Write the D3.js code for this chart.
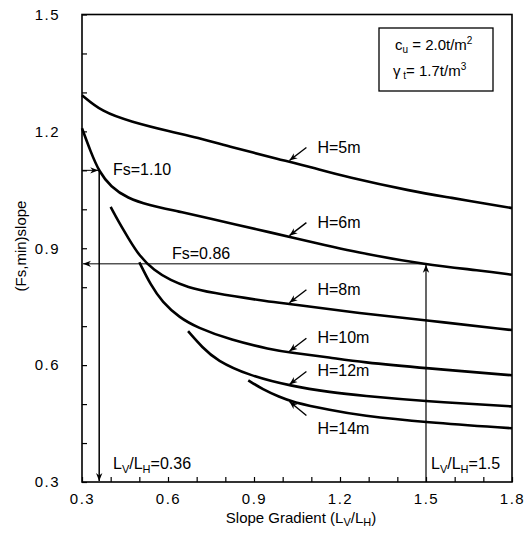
<!DOCTYPE html>
<html>
<head>
<meta charset="utf-8">
<script src="https://cdn.jsdelivr.net/npm/d3@7"></script>
<style>
  body { margin: 0; background: #fff; }
  text { font-family: "Liberation Sans", Arial, sans-serif; fill: #000; }
</style>
</head>
<body>
<svg id="chart" width="527" height="544"></svg>
<script>
// curves: [slope gradient LV/LH, (Fs,min)slope]
var h5 = [[0.30,1.293],[0.37,1.250],[0.47,1.225],[0.61,1.199],[0.70,1.185],[0.82,1.160],[0.99,1.128],[1.10,1.108],[1.22,1.083],[1.46,1.045],[1.57,1.032],[1.80,1.003]];
var h6 = [[0.30,1.208],[0.33,1.148],[0.36,1.096],[0.40,1.058],[0.46,1.028],[0.53,1.011],[0.64,0.994],[0.74,0.977],[0.92,0.947],[1.03,0.928],[1.27,0.887],[1.50,0.858],[1.69,0.843],[1.80,0.832]];
var h8 = [[0.40,1.006],[0.43,0.965],[0.46,0.928],[0.50,0.880],[0.55,0.844],[0.61,0.817],[0.67,0.800],[0.74,0.787],[0.96,0.762],[1.03,0.757],[1.27,0.733],[1.50,0.715],[1.80,0.690]];
var h10 = [[0.50,0.864],[0.54,0.805],[0.58,0.762],[0.64,0.722],[0.70,0.697],[0.82,0.664],[0.96,0.640],[1.02,0.633],[1.17,0.619],[1.27,0.608],[1.50,0.592],[1.80,0.574]];
var h12 = [[0.67,0.687],[0.72,0.645],[0.77,0.612],[0.88,0.574],[1.03,0.546],[1.17,0.530],[1.27,0.522],[1.50,0.507],[1.80,0.494]];
var h14 = [[0.88,0.561],[0.93,0.538],[0.99,0.518],[1.03,0.506],[1.17,0.484],[1.27,0.471],[1.50,0.453],[1.80,0.438]];

var curveNames = ["H=5m", "H=6m", "H=8m", "H=10m", "H=12m", "H=14m"];
var curves = [h5, h6, h8, h10, h12, h14];
var labelAt = [1.02, 1.02, 1.02, 1.02, 1.02, 1.02];   // where each label arrow touches its curve
var labelBelow = [false, false, false, false, false, true];

var xTicks = [0.3, 0.6, 0.9, 1.2, 1.5, 1.8];
var yTicks = [0.3, 0.6, 0.9, 1.2, 1.5];

// the two worked examples
var fsHigh = 1.10, slopeHigh = 0.36;
var fsLow = 0.86, slopeLow = 1.5;

var svg = d3.select("#chart");
var x = d3.scaleLinear().domain([0.3, 1.8]).range([82, 512]);
var y = d3.scaleLinear().domain([0.3, 1.5]).range([482, 14.5]);

var defs = svg.append("defs");
defs.append("marker").attr("id", "head")
  .attr("viewBox", "0 0 10 10").attr("refX", 10).attr("refY", 5)
  .attr("markerWidth", 8).attr("markerHeight", 8)
  .attr("markerUnits", "userSpaceOnUse")
  .attr("orient", "auto")
  .append("path").attr("d", "M0,1 L10,5 L0,9 L3,5 Z").attr("fill", "#000");

var xMinor = d3.range(3, 18.01, 1).map(function (d) { return Math.round(d) / 10; });
var yMinor = d3.range(3, 15.01, 1).map(function (d) { return Math.round(d) / 10; });
function fmt(d) {
  return xTicks.concat(yTicks).some(function (t) { return Math.abs(t - d) < 1e-6; }) ? d.toFixed(1) : "";
}

var gx = svg.append("g").attr("transform", "translate(0,482)")
  .call(d3.axisBottom(x).tickValues(xMinor).tickSize(-5).tickPadding(11).tickFormat(fmt));
var gy = svg.append("g").attr("transform", "translate(82,0)")
  .call(d3.axisLeft(y).tickValues(yMinor).tickSize(-5).tickPadding(22).tickFormat(fmt));
[gx, gy].forEach(function (g) {
  g.select(".domain").remove();
  g.selectAll("line").attr("stroke", "#000").attr("stroke-width", 1.2);
  g.selectAll("text").style("font-family", "'Liberation Sans', Arial, sans-serif")
    .style("font-size", "15px").style("letter-spacing", "1.5px").attr("fill", "#000");
});

// frame
svg.append("rect").attr("x", 82).attr("y", 14.5).attr("width", 430).attr("height", 467.5)
  .attr("fill", "none").attr("stroke", "#000").attr("stroke-width", 1.6);

var line = d3.line().x(function (d) { return x(d[0]); }).y(function (d) { return y(d[1]); })
  .curve(d3.curveBasis);

svg.append("g").selectAll("path").data(curves).enter().append("path")
  .attr("d", line).attr("fill", "none").attr("stroke", "#000").attr("stroke-width", 2.6);

// curve labels with little arrows
function valueAt(pts, v) {
  for (var i = 1; i < pts.length; i++) {
    if (v <= pts[i][0]) {
      var t = (v - pts[i - 1][0]) / (pts[i][0] - pts[i - 1][0]);
      return pts[i - 1][1] + t * (pts[i][1] - pts[i - 1][1]);
    }
  }
  return pts[pts.length - 1][1];
}
curves.forEach(function (pts, i) {
  var px = x(labelAt[i]), py = y(valueAt(pts, labelAt[i]));
  var below = labelBelow[i];
  svg.append("line").attr("x1", px + 18).attr("y1", below ? py + 15 : py - 14)
    .attr("x2", px + 1).attr("y2", below ? py + 1 : py - 1)
    .attr("stroke", "#000").attr("stroke-width", 1.4).attr("marker-end", "url(#head)");
  svg.append("text").attr("x", px + 29).attr("y", below ? py + 33 : py - 9)
    .style("font-size", "16px").text(curveNames[i]);
});

// worked example 1: Fs=1.10 -> LV/LH=0.36
svg.append("line").attr("x1", x(0.3)).attr("y1", y(fsHigh)).attr("x2", x(slopeHigh) - 1).attr("y2", y(fsHigh))
  .attr("stroke", "#000").attr("stroke-width", 1).attr("marker-end", "url(#head)");
svg.append("line").attr("x1", x(slopeHigh)).attr("y1", y(fsHigh)).attr("x2", x(slopeHigh)).attr("y2", y(0.3) - 1)
  .attr("stroke", "#000").attr("stroke-width", 1.5).attr("marker-end", "url(#head)");
svg.append("text").attr("x", 113).attr("y", 175).style("font-size", "16px").text("Fs=1.10");

// worked example 2: LV/LH=1.5 -> Fs=0.86
svg.append("line").attr("x1", x(slopeLow)).attr("y1", y(0.3)).attr("x2", x(slopeLow)).attr("y2", y(fsLow) + 1)
  .attr("stroke", "#000").attr("stroke-width", 1.2).attr("marker-end", "url(#head)");
svg.append("line").attr("x1", x(slopeLow)).attr("y1", y(fsLow)).attr("x2", x(0.3) + 1).attr("y2", y(fsLow))
  .attr("stroke", "#000").attr("stroke-width", 1).attr("marker-end", "url(#head)");
svg.append("text").attr("x", 172).attr("y", 259).style("font-size", "16px").text("Fs=0.86");

function ratioLabel(tx, ty, val) {
  var t = svg.append("text").attr("x", tx).attr("y", ty).style("font-size", "16px");
  t.append("tspan").text("L");
  t.append("tspan").attr("dy", 4).style("font-size", "11px").text("V");
  t.append("tspan").attr("dy", -4).text("/L");
  t.append("tspan").attr("dy", 4).style("font-size", "11px").text("H");
  t.append("tspan").attr("dy", -4).text("=" + val);
}
ratioLabel(113, 469, "0.36");
ratioLabel(431, 469, "1.5");

// soil parameter box
svg.append("rect").attr("x", 379).attr("y", 28).attr("width", 114).attr("height", 63)
  .attr("fill", "#fff").attr("stroke", "#000").attr("stroke-width", 1.3);
var t1 = svg.append("text").attr("x", 395).attr("y", 50).style("font-size", "15px");
t1.append("tspan").text("c");
t1.append("tspan").attr("dy", 3).style("font-size", "10px").text("u");
t1.append("tspan").attr("dy", -3).text(" = 2.0t/m");
t1.append("tspan").attr("dy", -6).style("font-size", "10px").text("2");
var t2 = svg.append("text").attr("x", 393).attr("y", 76).style("font-size", "15px");
t2.append("tspan").text("γ");
t2.append("tspan").attr("dy", 3).style("font-size", "10px").text(" t");
t2.append("tspan").attr("dy", -3).text("= 1.7t/m");
t2.append("tspan").attr("dy", -6).style("font-size", "10px").text("3");

// axis titles
var xt = svg.append("text").attr("x", 301).attr("y", 523).attr("text-anchor", "middle").style("font-size", "15px");
xt.append("tspan").text("Slope Gradient (L");
xt.append("tspan").attr("dy", 3).style("font-size", "11px").text("V");
xt.append("tspan").attr("dy", -3).text("/L");
xt.append("tspan").attr("dy", 3).style("font-size", "11px").text("H");
xt.append("tspan").attr("dy", -3).text(")");

svg.append("text").attr("transform", "translate(26,246) rotate(-90)")
  .attr("text-anchor", "middle").style("font-size", "15px").text("(Fs,min)slope");
</script>
</body>
</html>
